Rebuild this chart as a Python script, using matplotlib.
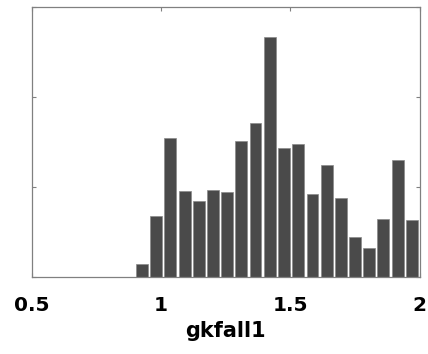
import matplotlib
matplotlib.use("Agg")
import matplotlib.pyplot as plt

# Histogram of gkfall1: bin centres and bar heights (density)
bin_centers = [0.927, 0.982, 1.037, 1.092, 1.147, 1.202, 1.256, 1.311, 1.366, 1.421,
               1.476, 1.531, 1.586, 1.641, 1.696, 1.751, 1.805, 1.860, 1.915, 1.970]
heights = [0.144, 0.678, 1.544, 0.952, 0.844, 0.967, 0.944, 1.508, 1.714, 2.667,
           1.433, 1.478, 0.919, 1.244, 0.874, 0.441, 0.319, 0.641, 1.300, 0.633]
x_ticks = [0.5, 1, 1.5, 2]
x_tick_labels = ["0.5", "1", "1.5", "2"]
y_ticks = [0, 1, 2, 3]
x_label = "gkfall1"

fig = plt.figure(figsize=(4.28, 3.54), dpi=100)
ax = fig.add_axes([0.0736, 0.2175, 0.9067, 0.7627])

ax.bar(bin_centers, heights, width=0.046, color="#4a4a4a",
       edgecolor="#8a8a8a", linewidth=0.5, zorder=2)

ax.set_xlim(0.5, 2)
ax.set_ylim(0, 3)
ax.set_xticks(x_ticks)
ax.set_xticklabels(x_tick_labels)
ax.set_yticks(y_ticks)
ax.set_yticklabels([])

for s in ax.spines.values():
    s.set_color("#808080")
    s.set_linewidth(0.9)

ax.tick_params(axis="both", direction="in", length=3, width=0.8, color="#808080",
               top=True, right=True, zorder=3)
ax.tick_params(axis="x", pad=14)
for lbl in ax.get_xticklabels():
    lbl.set_fontsize(14.5)
    lbl.set_fontweight("bold")
    lbl.set_family("DejaVu Sans")

ax.set_xlabel(x_label, fontsize=15, fontweight="bold", family="DejaVu Sans", labelpad=4)

fig.savefig("out.png", dpi=100)
